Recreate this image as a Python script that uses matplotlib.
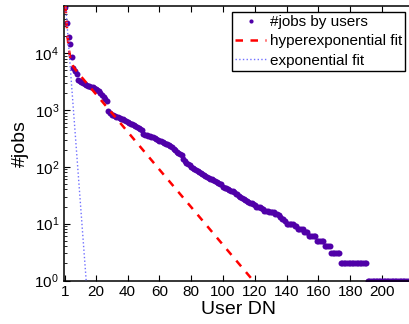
import numpy as np
import matplotlib
matplotlib.use("Agg")
import matplotlib.pyplot as plt

# jobs per user, sorted (users 1..216)
jobs = [65000, 34500, 19500, 14400, 8700, 5400, 4800, 4300, 3400, 3250,
        3100, 2950, 2850, 2750, 2700, 2650, 2600, 2530, 2460, 2380,
        2280, 2150, 2000, 1870, 1730, 1580, 1430, 950, 880, 830,
        810, 790, 770, 750, 725, 705, 690, 670, 645, 620,
        600, 580, 565, 545, 525, 505, 485, 465, 445, 380,
        365, 358, 350, 343, 336, 330, 320, 310, 298, 288,
        280, 272, 265, 258, 251, 245, 238, 225, 210, 195,
        185, 175, 168, 160, 140, 125, 118, 112, 106, 101,
        96, 92, 88, 84, 80, 77, 74, 71, 69, 67,
        65, 62, 60, 58, 56, 54, 52, 51, 50, 45,
        43, 42, 40, 39, 38, 37, 36, 34, 33, 31,
        30, 28, 27, 26, 25, 24, 23, 23, 22, 21,
        20, 20, 20, 19, 18, 17, 17, 17, 16, 16,
        16, 16, 15, 15, 14, 13, 12, 12, 11]
jobs += [10] * 5 + [9] * 2 + [8] * 4 + [7] * 3 + [6] * 5 + [5] * 5 \
        + [4] * 4 + [3] * 6 + [2] * 17 + [1] * 26
users = np.arange(1, len(jobs) + 1)

# fitted curves, points
hyper_x = [1, 1.5, 2, 2.5, 3, 4, 5, 6, 8, 10, 15, 20, 30, 40, 60, 80, 100, 120, 125]
hyper_y = [68500, 41000, 25800, 17300, 12500, 8200, 6570, 5770, 4840, 4140,
           2830, 1930, 900, 417, 90, 19.6, 4.24, 0.92, 0.63]
expo_x = [1, 8, 14, 16]
expo_y = [75000, 178, 1.0, 0.178]

xticks = [1, 20, 40, 60, 80, 100, 120, 140, 160, 180, 200]

plt.rcParams['font.family'] = ['Liberation Sans', 'DejaVu Sans']

fig = plt.figure(figsize=(4.09, 3.24), dpi=100)
ax = fig.add_axes([63.9 / 409, 43.5 / 324, 350 / 409, 274.5 / 324])

ax.plot(users, jobs, 'o', color='#5000a8', ms=4.3, mew=0, label='#jobs by users', zorder=2)
ax.plot(hyper_x, hyper_y, '--', color='red', lw=1.8, dashes=(3, 3), label='hyperexponential fit', zorder=3)
ax.plot(expo_x, expo_y, ':', color='#7070ff', lw=1.0, label='exponential fit', zorder=3)

ax.set_yscale('log')
ax.set_xlim(0, 220)
ax.set_ylim(1, 6.8e4)
ax.set_xticks(xticks)
ax.set_xticklabels([str(t) for t in xticks])

ax.tick_params(which='both', direction='in', top=True, right=False, labelsize=11)
ax.tick_params(which='major', length=4, width=0.8)
ax.tick_params(which='minor', length=2, width=0.6)
ax.tick_params(axis='x', which='minor', top=False, bottom=False)
for s in ax.spines.values():
    s.set_linewidth(1.1)
ax.spines['right'].set_visible(False)

ax.set_xlabel('User DN', fontsize=14, labelpad=1)
ax.set_ylabel('#jobs', fontsize=14, labelpad=4)

leg = ax.legend(loc='upper right', bbox_to_anchor=(405 / 409, 1 - 12 / 324),
                bbox_transform=fig.transFigure, borderaxespad=0, fontsize=11,
                numpoints=1, handlelength=2.0, handletextpad=0.25,
                labelspacing=0.35, borderpad=0.2, fancybox=False, framealpha=1)
leg.get_frame().set_edgecolor('black')
leg.get_frame().set_linewidth(1.0)
leg.legend_handles[0].set_markersize(3)

fig.savefig('out.png', dpi=100)
